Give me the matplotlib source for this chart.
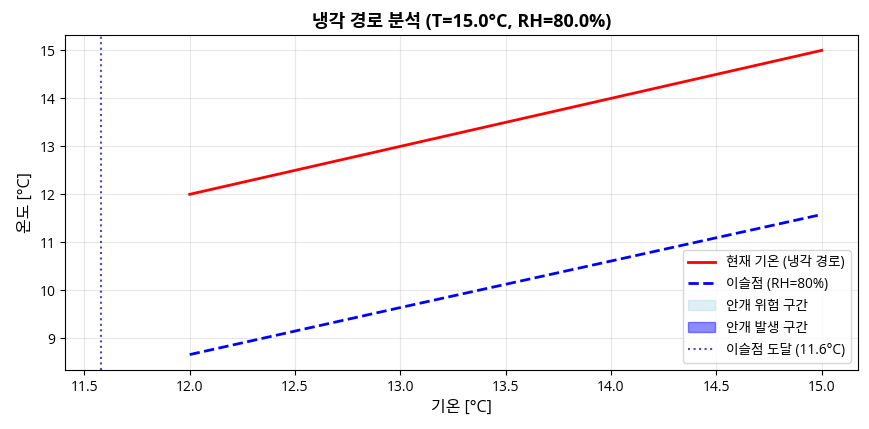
import numpy as np
import matplotlib.pyplot as plt

plt.rcParams['font.family'] = ['Open Sans', 'Noto Sans CJK KR', 'DejaVu Sans']
plt.rcParams['axes.unicode_minus'] = False

# 냉각 경로 데이터
temps = [12.0, 13.0, 14.0, 15.0]
dewpoints = [8.66, 9.64, 10.61, 11.58]
dew_reach = 11.58
T0 = 15.0
RH0 = 80.0

t = np.array(temps)
td = np.array(dewpoints)

fig, ax = plt.subplots(figsize=(8.69, 4.29), dpi=100)

ax.plot(t, t, color='red', lw=2, label='현재 기온 (냉각 경로)')
ax.plot(t, td, color='blue', lw=2, ls='--', label=f'이슬점 (RH={RH0:.0f}%)')
ax.fill_between(t, td, t, where=(t - td) < 1.0, color='lightblue', alpha=0.4,
                label='안개 위험 구간')
ax.fill_between(t, td, t, where=(t <= td), color='blue', alpha=0.45,
                label='안개 발생 구간')
ax.axvline(dew_reach, color='darkblue', ls=':', alpha=0.7, lw=1.5,
           label=f'이슬점 도달 ({dew_reach:.1f}°C)')

ax.set_xlabel('기온 [°C]', fontsize=11.5)
ax.set_ylabel('온도 [°C]', fontsize=11.5)
ax.set_title(f'냉각 경로 분석 (T={T0:.1f}°C, RH={RH0:.1f}%)', fontsize=13, fontweight='bold')
ax.grid(True, alpha=0.3)
ax.legend(loc='lower right', fontsize=9.8)

fig.subplots_adjust(left=0.075, right=0.987, top=0.918, bottom=0.138)
fig.savefig('out.png', dpi=100)
